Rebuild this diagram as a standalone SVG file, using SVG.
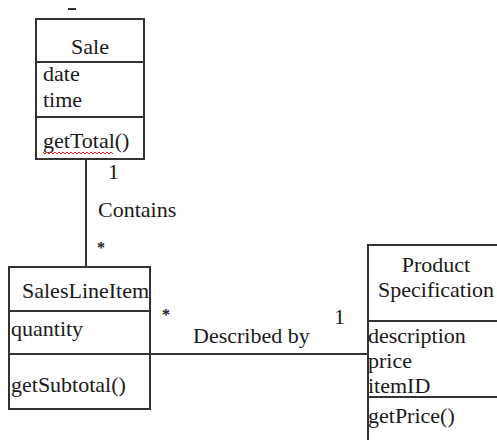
<svg xmlns="http://www.w3.org/2000/svg" width="497" height="440" viewBox="0 0 497 440">
<style>
.box{fill:#fff;stroke:#333;stroke-width:2}
.div{stroke:#333;stroke-width:2}
.conn{stroke:#333;stroke-width:2;fill:none}
text{font-family:'Liberation Serif',Tinos,'Times New Roman',Times,'DejaVu Serif','Noto Serif',serif;font-size:22px;fill:#1a1a1a}
.mid{text-anchor:middle}
.star{font-size:16px;font-weight:bold;text-anchor:middle}
.dv{font-family:'DejaVu Serif',serif;font-size:19px}
</style>
<rect width="497" height="440" fill="#fff"/>
<rect x="68" y="8" width="8" height="2" fill="#333"/>
<g id="connectors">
<line class="conn" x1="86" y1="159" x2="86" y2="267"/>
<line class="conn" x1="150" y1="354" x2="368" y2="354"/>
<text x="108" y="179">1</text>
<text x="98" y="217">Contains</text>
<text class="star" x="101" y="253">*</text>
<text class="star" x="166" y="320">*</text>
<text x="193" y="343">Described by</text>
<text x="334" y="324">1</text>
</g>
<g id="sale">
<rect class="box" x="36" y="19" width="108" height="140"/>
<line class="div" x1="36" y1="62" x2="144" y2="62"/>
<line class="div" x1="36" y1="117" x2="144" y2="117"/>
<text class="mid" x="90" y="54">Sale</text>
<text x="43" y="81">date</text>
<text x="43" y="107">time</text>
<text x="43" y="148">getTotal()</text>
<path d="M43 152 l2 2 l2 -2 l2 2 l2 -2 l2 2 l2 -2 l2 2 l2 -2 l2 2 l2 -2 l2 2 l2 -2 l2 2 l2 -2 l2 2 l2 -2 l2 2 l2 -2 l2 2 l2 -2 l2 2 l2 -2 l2 2 l2 -2 l2 2 l2 -2 l2 2 l2 -2 l2 2 l2 -2 l2 2 l2 -2 l2 2 l2 -2 l2 2" fill="none" stroke="#e02020" stroke-width="1"/>
</g>
<g id="saleslineitem">
<rect class="box" x="9" y="267" width="141" height="142"/>
<line class="div" x1="9" y1="311" x2="150" y2="311"/>
<line class="div" x1="9" y1="354" x2="150" y2="354"/>
<text x="22" y="298">SalesLineItem</text>
<text x="11" y="336">quantity</text>
<text x="11" y="392">getSubtotal()</text>
</g>
<g id="productspecification">
<rect class="box" x="368" y="245" width="136" height="210"/>
<line class="div" x1="368" y1="321" x2="504" y2="321"/>
<line class="div" x1="368" y1="397" x2="504" y2="397"/>
<text class="mid" x="436" y="272">Product</text>
<text x="378" y="297">Specification</text>
<text x="368" y="343">description</text>
<text x="368" y="368">price</text>
<text x="368" y="393">itemID</text>
<text x="368" y="423">getPrice()</text>
</g>
</svg>
